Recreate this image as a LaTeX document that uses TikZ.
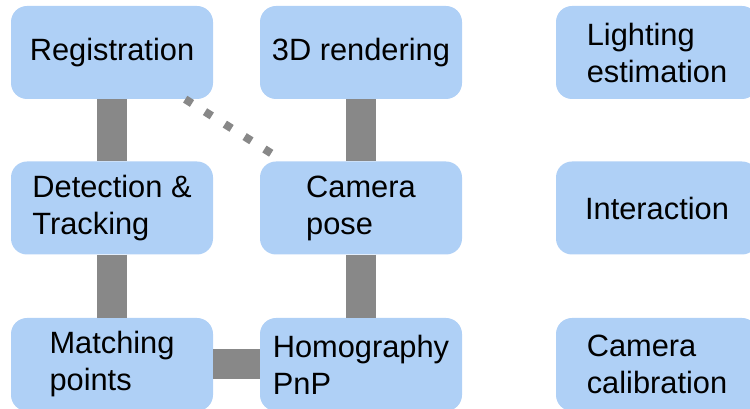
\documentclass[tikz,border=0pt]{standalone}
\usepackage{fontspec}
\setmainfont{Liberation Sans}
\usepackage{xcolor}

\definecolor{boxblue}{RGB}{175,208,246}
\definecolor{linkgray}{RGB}{136,136,136}

\tikzset{
  block/.style={fill=boxblue, rounded corners=16pt, minimum width=202pt, minimum height=93pt,
    inner sep=0pt, align=left, font=\fontsize{30.8}{37}\selectfont},
  bar/.style={draw=linkgray, line width=30pt},
  dotlink/.style={draw=linkgray, line width=8pt, dash pattern=on 8pt off 15.4pt}
}

\begin{document}
\begin{tikzpicture}[x=1pt,y=1pt]
		\useasboundingbox (0,0) rectangle (750,409);
		\clip (0,0) rectangle (750,409);

		\node[block] (reg) at (112,356.5) {Registration};
		\node[block] (render) at (361,356.5) {3D rendering};
		\node[block] (light) at (657,356.5) {Lighting\\estimation};

		\node[block] (detect) at (112,201) {Detection \&\\Tracking};
		\node[block] (pose) at (361,201) {Camera\\pose};
		\node[block] (interact) at (657,201) {Interaction};

		\node[block] (match) at (112,44.5) {Matching\\points};
		\node[block] (homog) at (361,44.5) {Homography\\PnP};
		\node[block] (calib) at (657,44.5) {Camera\\calibration};

		\draw[bar] (reg.south) -- (detect.north);
		\draw[bar] (detect.south) -- (match.north);
		\draw[bar] (render.south) -- (pose.north);
		\draw[bar] (pose.south) -- (homog.north);
		\draw[bar] (match.east) -- (homog.west);

		\draw[dotlink] ([xshift=-28pt]reg.south east) -- ([xshift=13pt,yshift=7pt]pose.north west);
\end{tikzpicture}
\end{document}
